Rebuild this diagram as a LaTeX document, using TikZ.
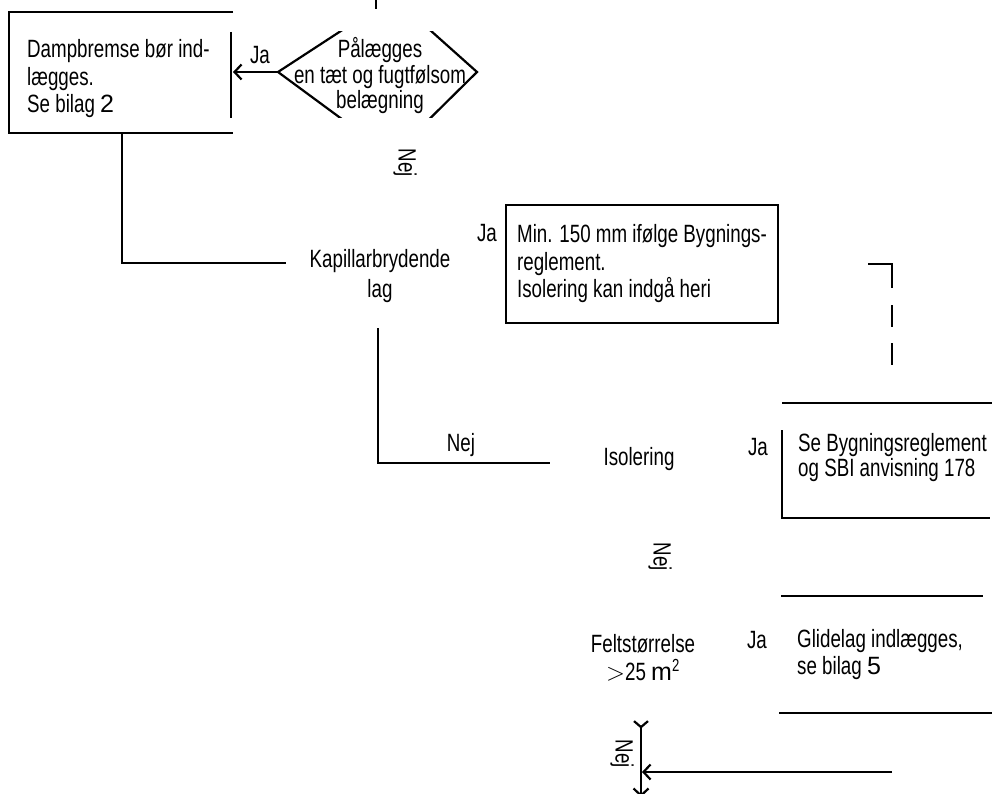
\documentclass[tikz,border=0pt]{standalone}
\usepackage{fontspec}
\setmainfont{Liberation Sans}[FakeStretch=0.75]
\newfontfamily\bredfont{Liberation Sans}
\usetikzlibrary{arrows.meta, positioning}
\tikzset{
  linje/.style={line width=2.2pt},
  pil/.style={linje, -{Straight Barb[length=7pt,width=15pt]}},
  tekst/.style={inner sep=0pt, align=left, anchor=west, font=\fontsize{25}{27.5}\selectfont},
  midt/.style={inner sep=0pt, align=center, font=\fontsize{25}{25.5}\selectfont},
  boks/.style={draw, linje, minimum width=272pt, minimum height=118pt, inner sep=0pt, align=left, font=\fontsize{25}{27.5}\selectfont},
  svar/.style={inner sep=0pt, font=\fontsize{25}{27}\selectfont},
  lodret/.style={svar, rotate=-90}
}
\begin{document}
\begin{tikzpicture}[x=1pt, y=-1pt]
    \useasboundingbox (0,0) rectangle (992,794);
    \clip (0,0) rectangle (992,794);

    % Dampbremse
    \draw [linje] (376,0) -- (376,9);
    \draw [linje] (233,12) -- (9,12) -- (9,133) -- (233,133);
    \draw [linje] (231,32) -- (231,118);
    \node (damp) [tekst] at (27,79) {Dampbremse bør ind-\\lægges.\\Se bilag {\bredfont 2}};

    % Paalaegges -- romben er skaaret af top og bund
    \begin{scope}
        \clip (260,32) rectangle (500,118);
        \draw [linje] (278,72) -- (393,-3) -- (477,72) -- (392,156) -- cycle;
    \end{scope}
    \node (paalaeg) [midt] at (380,76) {Pålægges\\en tæt og fugtfølsom\\belægning};
    \coordinate (romv) at (278,72);
    \coordinate (dampo) at (233,72);
    \draw [pil] (romv) -- (dampo);
    \node (ja1) [svar] at (260,55) {Ja};
    \node (nej1) [lodret] at (405,163) {Nej};

    % Kapillarbrydende lag
    \coordinate (damps) at (122,133);
    \coordinate (knaek1) at (122,263);
    \coordinate (kapv) at (286,263);
    \draw [linje] (damps) -- (knaek1) -- (kapv);
    \node (kapillar) [midt, font=\fontsize{25}{30}\selectfont] at (380,276) {Kapillarbrydende\\lag};
    \node (ja2) [svar] at (487,233) {Ja};
    \node (min150) [boks] at (642,264) {Min. 150 mm ifølge Bygnings-\\reglement.\\Isolering kan indgå heri};
    \coordinate (stiplet1) at (868,264);
    \coordinate (stiplet2) at (892,264);
    \coordinate (stiplet3) at (892,365);
    \draw [linje, dash pattern=on 48pt off 17pt on 22pt off 16pt on 22pt off 60pt] (stiplet1) -- (stiplet2) -- (stiplet3);

    % Isolering
    \coordinate (kaps) at (378,328);
    \coordinate (knaek2) at (378,463);
    \coordinate (isov) at (550,463);
    \draw [linje] (kaps) -- (knaek2) -- (isov);
    \node (nej2) [svar] at (461,445) {Nej};
    \node (isolering) [svar] at (639,459) {Isolering};
    \node (ja3) [svar] at (758,447) {Ja};
    \draw [linje] (782,403) -- (992,403);
    \draw [linje] (782,430) -- (782,518) -- (990,518);
    \node (sbi) [tekst, font=\fontsize{25}{25}\selectfont] at (798,458) {Se Bygningsreglement\\og SBI anvisning 178};
    \node (nej3) [lodret] at (660,557) {Nej};

    % Feltstoerrelse
    \draw [linje] (781,596) -- (983,596);
    \draw [linje] (779,713) -- (992,713);
    \node (felt) [midt, font=\fontsize{25}{28}\selectfont] at (643,658) {Feltstørrelse\\$>$25 {\bredfont m}\textsuperscript{2}};
    \node (ja4) [svar] at (757,640) {Ja};
    \node (glidelag) [tekst, font=\fontsize{25}{27}\selectfont] at (797,655) {Glidelag indlægges,\\se bilag {\bredfont 5}};
    \coordinate (pilh) at (892,772);
    \coordinate (pilv) at (642,772);
    \coordinate (lodo) at (641,720);
    \coordinate (lodn) at (641,797);
    \draw [pil] (pilh) -- (pilv);
    \draw [linje, {Straight Barb[reversed,length=6pt,width=14pt]}-{Straight Barb[length=7pt,width=15pt]}] (lodo) -- (lodn);
    \node (nej4) [lodret] at (622,754) {Nej};
\end{tikzpicture}
\end{document}
